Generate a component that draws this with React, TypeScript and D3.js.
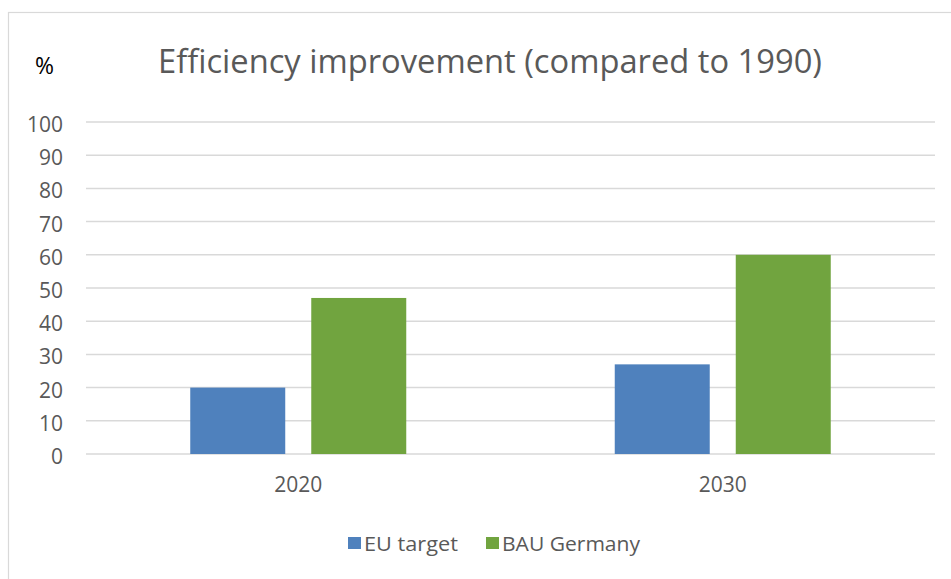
import React from "react";
import * as d3 from "d3";

const categories = ["2020", "2030"];
const seriesNames = ["EU target", "BAU Germany"];
const euTarget = [20, 27];
const bauGermany = [47, 60];
const yTicks = [0, 10, 20, 30, 40, 50, 60, 70, 80, 90, 100];
const colors = ["#4F81BD", "#71A43F"];
const titleText = "Efficiency improvement (compared to 1990)";
const yUnit = "%";

const W = 951;
const H = 579;
const FONT = "'Open Sans', 'Noto Sans', sans-serif";
const TXT = "#595959";

export default function App() {
  const plotL = 86, plotR = 935, plotT = 122, plotB = 454;
  const y = d3.scaleLinear().domain([0, 100]).range([plotB, plotT]);
  const x0 = d3.scaleBand<string>().domain(categories).range([plotL, plotR]);
  const groupW = 216;
  const x1 = d3.scaleBand<string>().domain(seriesNames).range([0, groupW]).paddingInner(0.215);
  const values = [euTarget, bauGermany];

  return (
    <svg width={W} height={H} style={{ position: "absolute", left: 0, top: 0, background: "#fff" }}>
      <rect x={0} y={0} width={W} height={H} fill="#fff" />
      <rect x={8.5} y={12.5} width={W + 20} height={H + 20} fill="#fff" stroke="#d9d9d9" strokeWidth={1.2} />
      <text x={35} y={74} fontFamily={FONT} fontSize={24} fill="#000" textLength={19} lengthAdjust="spacingAndGlyphs">{yUnit}</text>
      <text x={158} y={73} fontFamily={FONT} fontSize={32} fill={TXT} textLength={664} lengthAdjust="spacingAndGlyphs">{titleText}</text>
      {yTicks.map((t) => (
        <g key={t}>
          <line x1={plotL} x2={plotR} y1={y(t)} y2={y(t)} stroke="#d9d9d9" strokeWidth={1.5} />
          <text x={63} y={y(t) + 10} textAnchor="end" fontFamily={FONT} fontSize={21} fill={TXT}>{t}</text>
        </g>
      ))}
      {categories.map((c, ci) => {
        const cx = (x0(c) as number) + x0.bandwidth() / 2;
        const gx = cx - groupW / 2;
        return (
          <g key={c}>
            {seriesNames.map((s, si) => (
              <rect key={s} x={gx + (x1(s) as number)} y={y(values[si][ci])} width={x1.bandwidth()} height={plotB - y(values[si][ci])} fill={colors[si]} />
            ))}
            <text x={cx} y={492} textAnchor="middle" fontFamily={FONT} fontSize={21} fill={TXT}>{c}</text>
          </g>
        );
      })}
      <g>
        <rect x={348} y={537} width={13} height={12} fill={colors[0]} />
        <text x={364} y={550.5} fontFamily={FONT} fontSize={20} fill={TXT} textLength={94} lengthAdjust="spacingAndGlyphs">{seriesNames[0]}</text>
        <rect x={486} y={537} width={13} height={12} fill={colors[1]} />
        <text x={502} y={550.5} fontFamily={FONT} fontSize={20} fill={TXT} textLength={138} lengthAdjust="spacingAndGlyphs">{seriesNames[1]}</text>
      </g>
    </svg>
  );
}
